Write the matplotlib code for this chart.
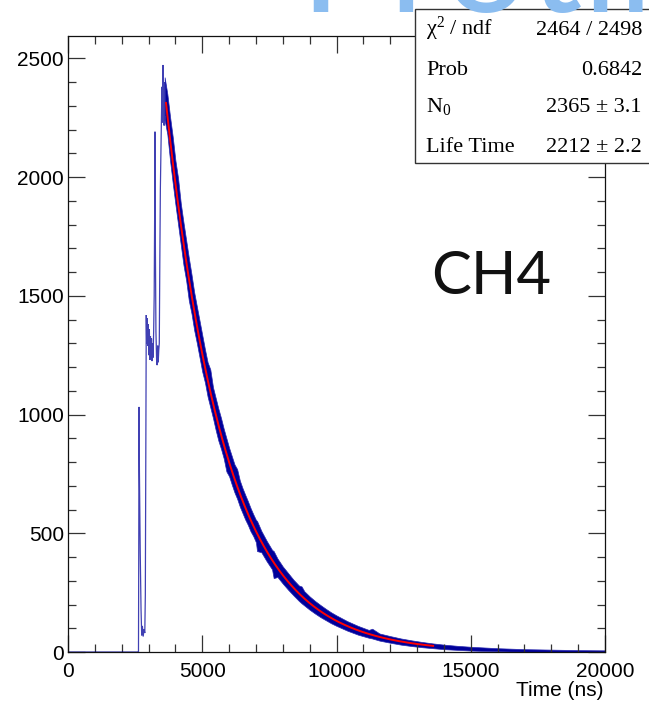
import matplotlib
matplotlib.use('Agg')
import matplotlib.pyplot as plt
import numpy as np
from matplotlib.ticker import MultipleLocator
from matplotlib.patches import Rectangle

# ---------------- data ----------------
# rising part of the spectrum (time in ns, counts)
rise_t = [0, 2600, 2625, 2635, 2645, 2660, 2690, 2720, 2745, 2770, 2800, 2830, 2860,
          2880, 2900, 2915, 2930, 2950, 2970, 2990, 3010, 3030, 3050, 3070, 3090,
          3110, 3130, 3150, 3170, 3190, 3210, 3230, 3240, 3255, 3275, 3300, 3320,
          3340, 3360, 3380, 3400, 3420, 3440, 3460, 3480, 3500, 3520, 3535, 3550,
          3565, 3580, 3595, 3610]
rise_counts = [0, 0, 0, 420, 1032, 760, 420, 180, 70, 110, 65, 95, 80,
               240, 900, 1419, 1300, 1405, 1290, 1380, 1250, 1360, 1230, 1330, 1260,
               1320, 1225, 1300, 1240, 1350, 1500, 1900, 2191, 1700, 1350, 1230, 1208,
               1290, 1220, 1270, 1300, 1650, 1950, 2100, 2250, 2380, 2230, 2472, 2300,
               2373, 2217, 2400, 2260]

# decaying part: lower / upper envelope of the noisy histogram
decay_t = [3600, 3700, 3800, 3900, 4000, 4100, 4200, 4300, 4400, 4500, 4600, 4700,
           4800, 4900, 5000, 5100, 5200, 5300, 5400, 5500, 5600, 5700, 5800, 5900,
           6000, 6100, 6200, 6300, 6400, 6500, 6600, 6700, 6800, 6900, 7000, 7040,
           7200, 7400, 7600, 7660, 7800, 8000, 8200, 8400, 8600, 8700, 8800, 9000,
           9200, 9400, 9600, 9800, 10000, 10400, 10800, 11200, 11330, 11600, 12000,
           12400, 12800, 13200, 13600, 14000, 14500, 15000, 16000, 17000, 18000,
           19000, 20000]
decay_lo = [2240, 2180, 2070, 1975, 1885, 1800, 1715, 1630, 1565, 1480, 1425, 1355,
            1300, 1240, 1180, 1135, 1075, 1030, 985, 935, 890, 855, 815, 760,
            740, 705, 672, 645, 612, 585, 558, 535, 508, 488, 462, 425,
            420, 382, 348, 311, 316, 288, 262, 238, 215, 205, 196, 178,
            162, 147, 134, 121, 110, 90, 73, 60, 57, 48, 39,
            31, 25, 20, 16, 12, 9, 6, 3, 1, 0,
            0, 0]
decay_hi = [2420, 2350, 2255, 2170, 2070, 1995, 1890, 1810, 1735, 1660, 1590, 1515,
            1455, 1395, 1335, 1275, 1220, 1190, 1115, 1070, 1025, 985, 940, 900,
            860, 825, 790, 770, 722, 690, 662, 635, 606, 580, 556, 552,
            510, 468, 430, 425, 394, 360, 332, 304, 280, 276, 256, 234,
            215, 198, 182, 167, 154, 130, 110, 93, 98, 78, 67,
            57, 49, 42, 36, 31, 26, 22, 16, 12, 10,
            8, 7]

# fit result (exponential decay)
fit_N0 = 2365.0
fit_tau = 2212.0
fit_t0 = 3600.0
fit_range = (3650.0, 13600.0)

stat_names = [r"χ$^{2}$ / ndf", "Prob", r"N$_{0}$", "Life Time"]
stat_values = ["2464 / 2498", "0.6842", "2365 ± 3.1", "2212 ± 2.2"]

x_label = "Time (ns)"
channel_label = "CH4"
slide_title = "Protin"

# ---------------- figure ----------------
plt.rcParams['font.family'] = ['Liberation Sans', 'DejaVu Sans']
plt.rcParams['mathtext.fontset'] = 'custom'
plt.rcParams['mathtext.rm'] = 'Liberation Serif'
plt.rcParams['mathtext.it'] = 'Liberation Serif:italic'

W, H = 649, 703
fig = plt.figure(figsize=(W / 100, H / 100), dpi=100)
ax = fig.add_axes([68 / W, 51 / H, 537 / W, 616 / H])

navy = '#00009a'
ax.plot(rise_t, rise_counts, color=navy, lw=0.9, alpha=0.75, solid_joinstyle='miter')
ax.fill_between(decay_t, decay_lo, decay_hi, color=navy, lw=0.5, edgecolor='#2a2ab0')

tf = np.linspace(fit_range[0], fit_range[1], 500)
ax.plot(tf, fit_N0 * np.exp(-(tf - fit_t0) / fit_tau), color='#ff0000', lw=1.4, zorder=5)

ax.set_xlim(0, 20000)
ax.set_ylim(0, 2594)
ax.xaxis.set_major_locator(MultipleLocator(5000))
ax.xaxis.set_minor_locator(MultipleLocator(1000))
ax.yaxis.set_major_locator(MultipleLocator(500))
ax.yaxis.set_minor_locator(MultipleLocator(100))
ax.tick_params(which='both', direction='in', top=True, right=True, color='#333333', width=0.9)
ax.tick_params(which='major', length=12, labelsize=15)
ax.tick_params(which='minor', length=6)
ax.tick_params(axis='x', which='major', pad=7)
ax.tick_params(axis='y', which='major', pad=3)
for s in ax.spines.values():
    s.set_linewidth(0.9)
    s.set_color('#111111')

fig.text(603 / W, 1 - 690 / H, x_label, ha='right', va='center', fontsize=15)

# channel label
fig.text(431 / W, 1 - 294 / H, channel_label, ha='left', va='baseline',
         fontsize=43, family=['Lato', 'DejaVu Sans'], color='#111111')

# stats box
fig.patches.append(Rectangle((415 / W, 1 - 163 / H), 300 / W, 154 / H,
                             transform=fig.transFigure, facecolor='white',
                             edgecolor='#333333', lw=1.0, zorder=10))
baselines = [35, 75, 112, 152]
for name, val, yb in zip(stat_names, stat_values, baselines):
    fig.text(426 / W, 1 - yb / H, name, ha='left', va='baseline', fontsize=16,
             family=['Liberation Serif', 'DejaVu Serif'], zorder=11)
    fig.text(642 / W, 1 - yb / H, val, ha='right', va='baseline', fontsize=16,
             family=['Liberation Serif', 'DejaVu Serif'], zorder=11)

# clipped slide title at the very top
fig.text(299 / W, 1 - 12 / H, slide_title, ha='left', va='baseline', fontsize=108,
         family=['Lato', 'DejaVu Sans'], color='#8bbdf0', zorder=12)

fig.savefig('out.png', dpi=100)
